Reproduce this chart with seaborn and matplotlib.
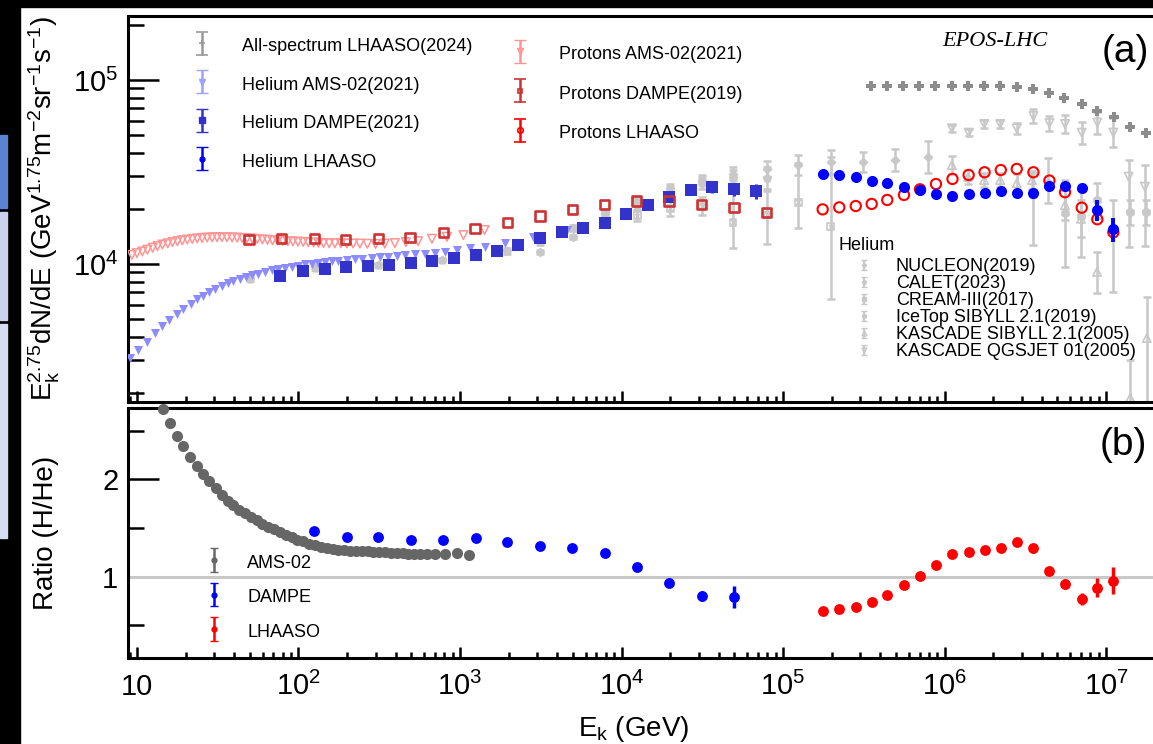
import numpy as np
import pandas as pd
import matplotlib
matplotlib.use("Agg")
import matplotlib.pyplot as plt
import seaborn as sns
from matplotlib.ticker import FixedLocator, FixedFormatter, LogLocator, NullFormatter
from matplotlib.legend_handler import HandlerErrorbar
from matplotlib.container import ErrorbarContainer
from matplotlib.patches import Rectangle

# ------------------------------------------------------------------ data
# panel (a): E_k^2.75 dN/dE
allspec_E = [3.49e5, 4.39e5, 5.56e5, 6.99e5, 8.74e5, 1.11e6, 1.39e6, 1.76e6, 2.21e6,
             2.80e6, 3.55e6, 4.46e6, 5.52e6, 7.07e6, 8.83e6, 1.12e7, 1.41e7, 1.77e7]
allspec_F = [92700, 92800, 92900, 92800, 92700, 92700, 92600, 92600, 92500,
             91200, 89000, 84700, 80100, 74100, 68100, 62600, 55700, 51700]

he_ams_E = [9.05, 10.2, 11.5, 12.9, 14.3, 15.9, 17.6, 19.4, 21.5, 23.4, 25.8, 27.9, 30.4,
            33.4, 36.5, 39.5, 43.4, 47.1, 51.3, 56.4, 62.1, 68.2, 75.0, 82.5, 90.7, 99.7,
            110, 121, 133, 146, 161, 176, 199, 224, 248, 284, 320, 360, 406, 456, 526, 607,
            700, 807, 955, 1150, 1430, 1900, 2830, 4580]
he_ams_F = [3072, 3412, 3784, 4200, 4605, 4962, 5330, 5690, 6060, 6430, 6730, 7040, 7340,
            7590, 7850, 8090, 8280, 8470, 8690, 8860, 9060, 9250, 9400, 9550, 9670, 9790,
            9960, 10040, 10170, 10250, 10340, 10430, 10520, 10610, 10690, 10790, 10870, 10960,
            11050, 11190, 11290, 11340, 11520, 11660, 11910, 12160, 12410, 12950, 13960, 15300]

he_dampe_E = [76.7, 107, 146, 197, 268, 365, 495, 674, 918, 1250, 1690, 2300, 3130, 4260,
              5750, 7870, 10700, 14500, 19700, 26800, 36500, 49700, 67700]
he_dampe_F = [8610, 9160, 9390, 9660, 9740, 9880, 10170, 10420, 10810, 11200, 11770, 12640,
              13800, 14870, 15700, 16720, 18700, 20950, 23220, 25230, 26310, 25460, 24940]
he_dampe_err = [60, 60, 70, 70, 80, 90, 100, 120, 150, 180, 220, 280, 350, 420, 500, 600,
                800, 1000, 1300, 1600, 2000, 2100, 2300]

lhaaso_E = [1.76e5, 2.23e5, 2.82e5, 3.54e5, 4.42e5, 5.61e5, 7.05e5, 8.85e5, 1.12e6, 1.41e6,
            1.77e6, 2.23e6, 2.80e6, 3.55e6, 4.46e6, 5.57e6, 7.07e6, 8.83e6, 1.11e7]
he_lhaaso_F = [30800, 30450, 29600, 28400, 27700, 26100, 25250, 24000, 23400, 24000, 24400,
               24800, 24400, 24400, 26500, 26500, 26000, 19650, 15450]
he_lhaaso_err = [300, 300, 300, 300, 300, 300, 300, 300, 300, 300, 350, 400, 400, 450, 600,
                 700, 900, 2500, 2300]
p_lhaaso_F = [19800, 20300, 20650, 21200, 22280, 23720, 25450, 27200, 28980, 30460, 31500,
              32400, 32850, 31500, 28400, 24550, 20230, 17500, 14860]

p_ams_E = [9.3, 10.0, 10.8, 11.6, 12.5, 13.4, 14.4, 15.5, 16.6, 17.8, 19.1, 20.5, 22.0, 23.6,
           25.3, 27.2, 29.2, 31.3, 33.6, 36.1, 38.8, 41.7, 44.8, 48.1, 51.7, 55.6, 59.8, 64.3,
           69.1, 74.3, 79.9, 85.9, 92.3, 99.3, 107, 115, 124, 133, 143, 155, 168, 183, 199,
           218, 240, 267, 300, 342, 395, 462, 550, 670, 830, 1050, 1420]
p_ams_F = [11200, 11450, 11700, 11950, 12250, 12500, 12750, 12950, 13150, 13300, 13450, 13580,
           13680, 13760, 13850, 13920, 13960, 13980, 13980, 13970, 13950, 13900, 13850, 13800,
           13740, 13680, 13600, 13530, 13450, 13400, 13350, 13300, 13260, 13220, 13180, 13130,
           13080, 13030, 12990, 12960, 12950, 12940, 12930, 12920, 12900, 12870, 12850, 12900,
           12980, 13150, 13300, 13700, 14050, 14350, 15300]

p_dampe_E = [49.4, 78.7, 125, 196, 312, 490, 788, 1240, 1960, 3130, 4960, 7870, 12400, 19700,
             31200, 49700, 78600]
p_dampe_F = [13620, 13800, 13800, 13620, 13800, 13960, 14800, 15630, 16740, 18230, 19830,
             20950, 21990, 21990, 20950, 20230, 19000]

# other helium measurements (grey)
nucleon_E = [3130, 4990, 7900, 12500, 20000, 31500, 49000, 79600, 1.24e5, 1.98e5, 3.13e5,
             4.93e5, 7.90e5]
nucleon_F = [11600, 14000, 18700, 22300, 25900, 28600, 31000, 32800, 34500, 35800, 35800,
             36700, 38200]
nucleon_dex = [0.01, 0.012, 0.015, 0.018, 0.022, 0.028, 0.035, 0.045, 0.055, 0.065, 0.055,
               0.06, 0.085]

calet_E = [50.1, 127, 311, 774, 1240, 1950, 3130, 5010, 7900, 12500, 20000, 31500, 49000, 79600]
calet_F = [8280, 9510, 9880, 10510, 11050, 11770, 13180, 15700, 18930, 20940, 24620, 27540,
           29300, 29300]
calet_dex = [0.01, 0.01, 0.01, 0.012, 0.012, 0.014, 0.016, 0.018, 0.02, 0.025, 0.03, 0.035,
             0.045, 0.06]

cream_E = [12500, 20000, 31500, 49000, 79600, 1.24e5, 1.98e5]
cream_F = [18250, 20100, 20650, 16900, 18460, 21700, 15900]
cream_dlo = [0.03, 0.04, 0.05, 0.14, 0.16, 0.14, 0.39]
cream_dhi = [0.03, 0.04, 0.05, 0.19, 0.13, 0.21, 0.38]

icetop_E = [3.53e6, 4.38e6, 5.57e6, 7.0e6, 8.79e6, 1.11e7, 1.41e7, 1.77e7]
icetop_F = [23700, 27540, 18900, 18230, 22280, 15490, 19190, 19190]
icetop_dlo = [0.27, 0.109, 0.293, 0.223, 0.098, 0.342, 0.07, 0.07]
icetop_dhi = [0.12, 0.136, 0.179, 0.141, 0.092, 0.158, 0.065, 0.065]

ksib_E = [1.11e6, 1.40e6, 1.76e6, 2.21e6, 2.80e6, 3.48e6, 5.57e6, 7.0e6, 8.79e6, 1.41e7, 1.79e7]
ksib_F = [34500, 29700, 28600, 28600, 27500, 28600, 20900, 17600, 9060, 1870, 3960]
ksib_dlo = [0.05, 0.04, 0.04, 0.04, 0.05, 0.05, 0.08, 0.1, 0.114, 0.5, 0.37]
ksib_dhi = [0.05, 0.04, 0.04, 0.04, 0.05, 0.05, 0.08, 0.1, 0.109, 0.207, 0.223]

kqgs_E = [1.11e6, 1.41e6, 1.76e6, 2.21e6, 2.80e6, 3.55e6, 4.46e6, 5.57e6, 7.07e6, 8.83e6,
          1.11e7, 1.38e7, 1.74e7]
kqgs_F = [54600, 51700, 57650, 57650, 54600, 63700, 58200, 57650, 51700, 58650, 51700, 29800,
          26300]
kqgs_dlo = [0.02, 0.02, 0.02, 0.02, 0.03, 0.04, 0.04, 0.05, 0.06, 0.06, 0.08, 0.38, 0.32]
kqgs_dhi = [0.02, 0.02, 0.02, 0.02, 0.03, 0.04, 0.04, 0.05, 0.06, 0.06, 0.08, 0.09, 0.12]

# panel (b): ratio H/He
r_ams_E = [14.4, 16.0, 17.8, 19.4, 21.3, 23.4, 25.8, 28.1, 30.8, 33.4, 36.7, 39.5, 43.0, 46.6,
           50.6, 55.1, 59.7, 65.0, 70.5, 76.8, 83.7, 90.8, 98.3, 107, 117, 127, 137, 150, 163,
           176, 192, 208, 227, 246, 268, 290, 316, 343, 372, 406, 442, 478, 521, 565, 622,
           700, 807, 955, 1143]
r_ams = [2.72, 2.58, 2.45, 2.34, 2.23, 2.14, 2.06, 1.98, 1.91, 1.84, 1.78, 1.74, 1.69, 1.65,
         1.61, 1.58, 1.54, 1.51, 1.49, 1.46, 1.43, 1.41, 1.38, 1.37, 1.34, 1.33, 1.31, 1.29,
         1.285, 1.27, 1.27, 1.26, 1.26, 1.26, 1.26, 1.257, 1.254, 1.25, 1.247, 1.24, 1.24,
         1.233, 1.233, 1.233, 1.23, 1.233, 1.233, 1.24, 1.223]
r_dampe_E = [124, 199, 312, 498, 781, 1256, 1963, 3127, 4960, 7870, 12400, 19700, 31400, 49800]
r_dampe = [1.47, 1.405, 1.405, 1.377, 1.377, 1.395, 1.36, 1.32, 1.29, 1.247, 1.10, 0.94, 0.80,
           0.79]
r_dampe_err = [0.01, 0.01, 0.01, 0.01, 0.01, 0.01, 0.01, 0.012, 0.015, 0.02, 0.025, 0.05,
               0.05, 0.11]
r_lhaaso = [0.647, 0.665, 0.69, 0.743, 0.81, 0.915, 1.007, 1.12, 1.233, 1.257, 1.274, 1.298,
            1.36, 1.29, 1.06, 0.925, 0.77, 0.887, 0.96]
r_lhaaso_err = [0.01, 0.01, 0.01, 0.01, 0.01, 0.012, 0.012, 0.015, 0.015, 0.015, 0.02, 0.02,
                0.03, 0.05, 0.04, 0.05, 0.06, 0.1, 0.14]

xtick_vals = [10, 1e2, 1e3, 1e4, 1e5, 1e6, 1e7]
xtick_labels = ["10", "$10^{2}$", "$10^{3}$", "$10^{4}$", "$10^{5}$", "$10^{6}$", "$10^{7}$"]

legend_a1 = ["All-spectrum LHAASO(2024)", "Helium AMS-02(2021)", "Helium DAMPE(2021)",
             "Helium LHAASO"]
legend_a2 = ["Protons AMS-02(2021)", "Protons DAMPE(2019)", "Protons LHAASO"]
legend_he = ["NUCLEON(2019)", "CALET(2023)", "CREAM-III(2017)", "IceTop SIBYLL 2.1(2019)",
             "KASCADE SIBYLL 2.1(2005)", "KASCADE QGSJET 01(2005)"]
legend_b = ["AMS-02", "DAMPE", "LHAASO"]

# ------------------------------------------------------------------ style
sns.set_theme(style="ticks")
plt.rcParams["font.family"] = ["Liberation Sans", "DejaVu Sans"]
plt.rcParams["mathtext.fontset"] = "custom"
plt.rcParams["mathtext.rm"] = "Liberation Sans"
plt.rcParams["mathtext.it"] = "Liberation Sans:italic"
plt.rcParams["mathtext.bf"] = "Liberation Sans:bold"
plt.rcParams["mathtext.default"] = "regular"
for k in ["text.color", "axes.labelcolor", "xtick.color", "ytick.color", "axes.edgecolor"]:
    plt.rcParams[k] = "black"

GRAY = "#c8c8c8"
C_ALL = "#8c8c8c"
C_HE_AMS = "#8c8cff"
C_HE_DAMPE = "#3333cc"
C_HE_LH = "#0000ff"
C_P_AMS = "#ff9494"
C_P_DAMPE = "#cc3333"
C_P_LH = "#ff0000"
C_R_AMS = "#666666"

W, H = 1153, 744
fig = plt.figure(figsize=(W / 100, H / 100), dpi=100)
ax1 = fig.add_axes([128 / W, 1 - 402 / H, (1180 - 128) / W, (402 - 15.5) / H])
ax2 = fig.add_axes([128 / W, 1 - 658 / H, (1180 - 128) / W, (658 - 408) / H])

# screenshot frame
fig.add_artist(Rectangle((0, 1 - 7 / H), 1, 7 / H, transform=fig.transFigure,
                         color="black", zorder=0))
fig.add_artist(Rectangle((0, 0), 20 / W, 1, transform=fig.transFigure, color="black", zorder=0))
fig.add_artist(Rectangle((0, 1 - 208 / H), 7 / W, 73 / H, transform=fig.transFigure,
                         color="#5a83d0", zorder=1))
fig.add_artist(Rectangle((0, 1 - 320 / H), 7 / W, 108 / H, transform=fig.transFigure,
                         color="#c9d2ee", zorder=1))
fig.add_artist(Rectangle((0, 1 - 538 / H), 7 / W, 214 / H, transform=fig.transFigure,
                         color="#d6dcf2", zorder=1))

for ax in (ax1, ax2):
    ax.set_xscale("log")
    ax.set_xlim(8.8, 2.87e7)
ax1.set_yscale("log")
ax1.set_ylim(1778, 2.24e5)
ax2.set_ylim(0.1645, 2.734)


def scat(ax, E, V, marker, ms, face, edge, lw=0.0, z=3, clip=True):
    df = pd.DataFrame({"E": E, "V": V})
    sns.scatterplot(data=df, x="E", y="V", ax=ax, marker=marker, s=ms ** 2, color=edge,
                    facecolor=face, edgecolor=edge, linewidth=lw, zorder=z, legend=False,
                    clip_on=clip)


def bars(ax, E, V, err, color, lw=2.2, cap=0.0, z=3):
    ax.errorbar(E, V, yerr=err, fmt="none", ecolor=color, elinewidth=lw, capsize=cap,
                capthick=lw, zorder=z)


def gray_set(E, F, dlo, dhi, marker, ms, filled=True, lw=1.0):
    F = np.asarray(F, float)
    lo = F - F * 10 ** (-np.asarray(dlo, float))
    hi = F * 10 ** np.asarray(dhi, float) - F
    bars(ax1, E, F, [lo, hi], GRAY, lw=1.8, cap=3, z=2)
    scat(ax1, E, F, marker, ms, GRAY if filled else "none", GRAY, lw=lw, z=2.2)


# ---- panel (a) grey helium data
gray_set(calet_E, calet_F, calet_dex, calet_dex, "p", 6)
gray_set(nucleon_E, nucleon_F, nucleon_dex, nucleon_dex, "D", 4.2)
gray_set(cream_E, cream_F, cream_dlo, cream_dhi, "s", 5, filled=False, lw=1.2)
scat(ax1, cream_E, cream_F, "x", 3.5, GRAY, GRAY, lw=1.0, z=2.2)
gray_set(icetop_E, icetop_F, icetop_dlo, icetop_dhi, "h", 6)
gray_set(ksib_E, ksib_F, ksib_dlo, ksib_dhi, "^", 6, filled=False, lw=1.2)
gray_set(kqgs_E, kqgs_F, kqgs_dlo, kqgs_dhi, "v", 6, filled=False, lw=1.2)

# ---- panel (a) main data
scat(ax1, allspec_E, allspec_F, "P", 7.8, C_ALL, C_ALL, z=3)
scat(ax1, p_ams_E, p_ams_F, "v", 6.2, "none", C_P_AMS, lw=1.1, z=3)
scat(ax1, he_ams_E, he_ams_F, "v", 6.5, C_HE_AMS, C_HE_AMS, z=3.1)
bars(ax1, he_dampe_E, he_dampe_F, he_dampe_err, C_HE_DAMPE, z=3.5)
scat(ax1, he_dampe_E, he_dampe_F, "s", 8, C_HE_DAMPE, C_HE_DAMPE, z=3.5)
scat(ax1, p_dampe_E, p_dampe_F, "s", 6.6, "none", C_P_DAMPE, lw=1.9, z=3.6)
scat(ax1, lhaaso_E, p_lhaaso_F, "o", 7.4, "none", C_P_LH, lw=1.5, z=4)
bars(ax1, lhaaso_E, he_lhaaso_F, he_lhaaso_err, C_HE_LH, lw=2.8, z=4.5)
scat(ax1, lhaaso_E, he_lhaaso_F, "o", 8, C_HE_LH, C_HE_LH, z=4.5)

# ---- panel (b)
ax2.axhline(1.0, color=GRAY, lw=2.2, zorder=1)
scat(ax2, r_ams_E, r_ams, "o", 8, C_R_AMS, C_R_AMS, z=3, clip=False)
bars(ax2, r_dampe_E, r_dampe, r_dampe_err, C_HE_LH, lw=2.5, z=3.5)
scat(ax2, r_dampe_E, r_dampe, "o", 7.8, C_HE_LH, C_HE_LH, z=3.5)
bars(ax2, lhaaso_E, r_lhaaso, r_lhaaso_err, C_P_LH, lw=2.5, z=4)
scat(ax2, lhaaso_E, r_lhaaso, "o", 7.8, C_P_LH, C_P_LH, z=4)

# ------------------------------------------------------------------ axes
for ax in (ax1, ax2):
    ax.xaxis.set_major_locator(FixedLocator(xtick_vals))
    ax.xaxis.set_minor_locator(LogLocator(base=10, subs=np.arange(2, 10), numticks=40))
    ax.xaxis.set_minor_formatter(NullFormatter())
    for s in ["left", "bottom", "top"]:
        ax.spines[s].set_linewidth(2.2)
        ax.spines[s].set_color("black")
    ax.spines["right"].set_visible(False)
    ax.tick_params(axis="both", which="both", direction="in", color="black", width=1.8,
                   top=False, right=False)
    ax.tick_params(axis="y", which="major", length=22, pad=7, labelsize=21)
    ax.tick_params(axis="y", which="minor", length=11.5)
    ax.tick_params(axis="x", which="major", length=8, pad=26.5, labelsize=21)
    ax.tick_params(axis="x", which="minor", length=4.5)
    ax.set_xlabel("")
    ax.set_ylabel("")

ax1.tick_params(axis="x", labelbottom=False)
ax2.xaxis.set_major_formatter(FixedFormatter(xtick_labels))
for t in ax2.get_xticklabels():
    t.set_verticalalignment("baseline")

ax1.yaxis.set_major_locator(FixedLocator([1e4, 1e5]))
ax1.yaxis.set_major_formatter(FixedFormatter(["$10^{4}$", "$10^{5}$"]))
ax1.yaxis.set_minor_locator(LogLocator(base=10, subs=np.arange(2, 10), numticks=40))
ax1.yaxis.set_minor_formatter(NullFormatter())
ax2.yaxis.set_major_locator(FixedLocator([1, 2]))
ax2.yaxis.set_major_formatter(FixedFormatter(["1", "2"]))
ax2.yaxis.set_minor_locator(FixedLocator([0.5, 1.5, 2.5]))
ax2.yaxis.set_minor_formatter(NullFormatter())

ax1.set_ylabel(r"E$_{k}^{2.75}$dN/dE (GeV$^{1.75}$m$^{-2}$sr$^{-1}$s$^{-1}$)", fontsize=20)
ax1.yaxis.set_label_coords((62 - 128) / 1052, 0.5)
ax2.set_ylabel("Ratio (H/He)", fontsize=20)
ax2.yaxis.set_label_coords((59 - 128) / 1052, 0.5)
ax2.set_xlabel("E$_{k}$ (GeV)", fontsize=20)
ax2.xaxis.set_label_coords((634 - 128) / 1052, -(714 - 658) / 250)

# texts
ax1.text((1125 - 128) / 1052, (402 - 52) / 386.5, "(a)", transform=ax1.transAxes,
         fontsize=28, ha="center", va="center")
ax2.text((1123 - 128) / 1052, (658 - 445) / 250, "(b)", transform=ax2.transAxes,
         fontsize=28, ha="center", va="center")
ax1.text((995 - 128) / 1052, (402 - 42) / 386.5, "EPOS-LHC", transform=ax1.transAxes,
         fontsize=16, ha="center", va="center", family="Liberation Serif", style="italic")


# ------------------------------------------------------------------ legends
def proxy(ax, marker, color, face, ms, cap, lw=1.8, mew=1.0):
    return ax.errorbar([np.nan], [np.nan], yerr=[1.0], fmt=marker, color=color, mfc=face,
                       mec=color, ms=ms, mew=mew, ecolor=color, elinewidth=lw, capsize=cap,
                       capthick=lw)


h_a1 = [proxy(ax1, "+", "#999999", "#999999", 5, 4.2, mew=1.2),
        proxy(ax1, "v", "#a0a0ff", "#a0a0ff", 4, 4.2),
        proxy(ax1, "s", C_HE_DAMPE, C_HE_DAMPE, 4, 4.2),
        proxy(ax1, "o", C_HE_LH, C_HE_LH, 3.5, 4.2)]
h_a2 = [proxy(ax1, "v", C_P_AMS, "none", 4, 4.2),
        proxy(ax1, "s", C_P_DAMPE, "none", 3.5, 4.2, mew=1.2),
        proxy(ax1, "o", C_P_LH, "none", 4, 4.2, mew=1.2)]
h_he = [proxy(ax1, "D", GRAY, GRAY, 2.2, 2.5, lw=1.6),
        proxy(ax1, "p", GRAY, GRAY, 3, 2.5, lw=1.6),
        proxy(ax1, "s", GRAY, GRAY, 3, 2.5, lw=1.6),
        proxy(ax1, "h", GRAY, GRAY, 3, 2.5, lw=1.6),
        proxy(ax1, "^", GRAY, "none", 3.5, 2.5, lw=1.6),
        proxy(ax1, "v", GRAY, "none", 3.5, 2.5, lw=1.6)]
h_b = [proxy(ax2, "o", C_R_AMS, C_R_AMS, 3.5, 3.2),
       proxy(ax2, "o", C_HE_LH, C_HE_LH, 3.5, 3.2),
       proxy(ax2, "o", C_P_LH, C_P_LH, 3.5, 3.2)]

common = dict(frameon=False, loc="upper left", borderpad=0, borderaxespad=0, numpoints=1)
leg1 = ax1.legend(h_a1, legend_a1, bbox_to_anchor=((193 - 128) / 1052, (402 - 35.3) / 386.5),
                  fontsize=13, handlelength=1.0, handleheight=1.3, labelspacing=1.03,
                  handletextpad=1.72, handler_map={ErrorbarContainer: HandlerErrorbar(yerr_size=0.64)},
                  **common)
ax1.add_artist(leg1)
leg2 = ax1.legend(h_a2, legend_a2, bbox_to_anchor=((511 - 128) / 1052, (402 - 43.3) / 386.5),
                  fontsize=13, handlelength=1.0, handleheight=1.3, labelspacing=1.09,
                  handletextpad=1.66, handler_map={ErrorbarContainer: HandlerErrorbar(yerr_size=0.64)},
                  **common)
ax1.add_artist(leg2)
leg3 = ax1.legend(h_he, legend_he, bbox_to_anchor=((857 - 128) / 1052, (402 - 258) / 386.5),
                  fontsize=13, handlelength=0.75, handleheight=0.6, labelspacing=0.0,
                  handletextpad=1.4, handler_map={ErrorbarContainer: HandlerErrorbar(yerr_size=0.3)},
                  **common)
ax1.text((839 - 128) / 1052, (402 - 246) / 386.5, "Helium", transform=ax1.transAxes,
         fontsize=13, ha="left", va="center")
ax2.legend(h_b, legend_b, bbox_to_anchor=((205 - 128) / 1052, (658 - 552.5) / 250),
           fontsize=13, handlelength=1.0, handleheight=1.2, labelspacing=0.83,
           handletextpad=1.33, handler_map={ErrorbarContainer: HandlerErrorbar(yerr_size=0.65)},
           **common)

fig.savefig("out.png", dpi=100)
